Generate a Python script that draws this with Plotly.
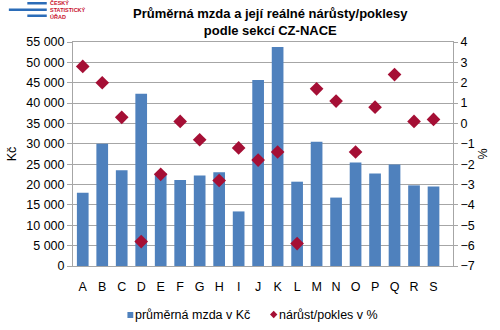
import plotly.graph_objects as go

categories = ["A", "B", "C", "D", "E", "F", "G", "H", "I", "J", "K", "L", "M", "N", "O", "P", "Q", "R", "S"]
wage_czk = [18000, 30000, 23500, 42300, 22800, 21100, 22200, 23000, 13400, 45700,
            53800, 20700, 30500, 16800, 25400, 22700, 24900, 19800, 19500]
change_pct = [2.8, 2.0, 0.3, -5.8, -2.5, 0.1, -0.8, -2.8, -1.2, -1.8,
              -1.4, -5.9, 1.7, 1.1, -1.4, 0.8, 2.4, 0.1, 0.2]
left_ticks = list(range(0, 55001, 5000))
right_ticks = list(range(-7, 5))
series_names = ["průměrná mzda v Kč", "nárůst/pokles v %"]
logo_lines = ["ČESKÝ", "STATISTICKÝ", "ÚŘAD"]

BLUE = "#4F81BD"
RED = "#A50F35"
GRID = "#A6A6A6"
FONT = "Liberation Sans, Arial, sans-serif"

L, R, T, B = 68, 41, 42, 64
PW, PH = 500 - L - R, 330 - T - B


def px(x):
    return (x - L) / PW


def py(y):
    return (330 - B - y) / PH


fig = go.Figure()
fig.add_trace(go.Bar(
    x=categories, y=wage_czk, name=series_names[0],
    marker=dict(color=BLUE, line=dict(width=0)), yaxis="y",
))
fig.add_trace(go.Scatter(
    x=categories, y=change_pct, name=series_names[1], mode="markers",
    marker=dict(symbol="diamond", size=10.5, color=RED), yaxis="y2",
))

fig.update_layout(
    width=500, height=330,
    margin=dict(l=L, r=R, t=T, b=B, pad=0),
    paper_bgcolor="white", plot_bgcolor="white",
    separators=", ",
    font=dict(family=FONT, size=12, color="#000000"),
    bargap=0.4,
    showlegend=False,
    xaxis=dict(type="category", range=[-0.5, 19.0], showgrid=False,
               showline=True, linecolor="#A6A6A6", linewidth=1, mirror=True,
               ticks="", tickfont=dict(size=12.5), ticklabelstandoff=9),
    yaxis=dict(range=[0, 55000], tickvals=left_ticks, tickformat=",d",
               showgrid=True, gridcolor=GRID, gridwidth=1,
               showline=True, linecolor="#A6A6A6", ticks="outside", ticklen=5,
               tickcolor="#A6A6A6", zeroline=False,
               tickfont=dict(size=12.5),
               title=dict(text="Kč", font=dict(size=12.5), standoff=6)),
    yaxis2=dict(range=[-7, 4], tickvals=right_ticks, overlaying="y", side="right",
                showgrid=False, showline=True, linecolor="#A6A6A6",
                ticks="outside", ticklen=4, tickcolor="#A6A6A6", zeroline=False,
                tickfont=dict(size=12.5),
                title=dict(text="%", font=dict(size=12.5), standoff=4)),
)

# Title (two lines)
fig.add_annotation(xref="paper", yref="paper", x=px(271), y=1.0,
                   yshift=2, xanchor="center", yanchor="bottom", showarrow=False,
                   text="<b>Průměrná mzda a její reálné nárůsty/poklesy<br>podle sekcí CZ-NACE</b>",
                   font=dict(size=13, family=FONT), align="center")

# Legend drawn manually (compact, like the reference)
fig.add_shape(type="rect", xref="paper", yref="paper",
              x0=px(124), x1=px(130), y0=py(318), y1=py(312),
              fillcolor=BLUE, line=dict(width=0))
fig.add_annotation(xref="paper", yref="paper", x=px(130), y=py(314.5),
                   xanchor="left", yanchor="middle", showarrow=False,
                   text=series_names[0], font=dict(size=12.5, family=FONT))
cx, cy, h = 274.5, 314.5, 3.8
path = (f"M {px(cx)} {py(cy - h)} L {px(cx + h)} {py(cy)} "
        f"L {px(cx)} {py(cy + h)} L {px(cx - h)} {py(cy)} Z")
fig.add_shape(type="path", xref="paper", yref="paper", path=path,
              fillcolor=RED, line=dict(width=0))
fig.add_annotation(xref="paper", yref="paper", x=px(278), y=py(314.5),
                   xanchor="left", yanchor="middle", showarrow=False,
                   text=series_names[1], font=dict(size=12.5, family=FONT))

# Logo (stripes + text)
LOGO_BLUE = "#2B6CB8"
LOGO_RED = "#C8102E"
for x0, y0, x1, y1 in [(21, 2, 41, 4.5), (2, 8.5, 41, 11), (21, 14.5, 41, 17)]:
    fig.add_shape(type="rect", xref="paper", yref="paper",
                  x0=px(x0), x1=px(x1), y0=py(y0), y1=py(y1),
                  fillcolor=LOGO_BLUE, line=dict(width=0), layer="above")
for i, t in enumerate(logo_lines):
    fig.add_annotation(xref="paper", yref="paper",
                       x=px(43), y=py(3.3 + 6.8 * i),
                       xanchor="left", yanchor="middle", showarrow=False,
                       borderpad=0,
                       text=f"<b>{t}</b>", font=dict(size=5.5, color=LOGO_RED, family=FONT))

fig.write_html("out.html")
